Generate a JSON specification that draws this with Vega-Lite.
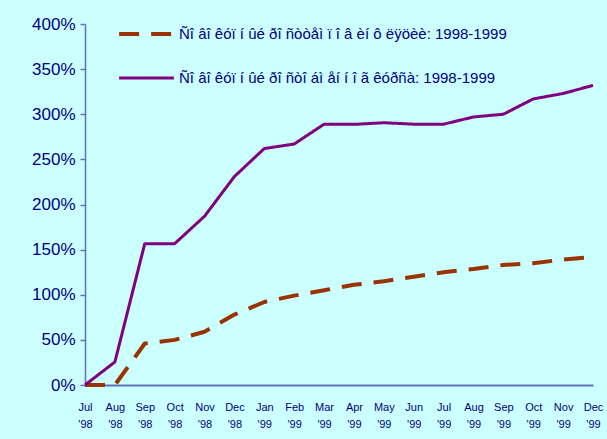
{
  "$schema": "https://vega.github.io/schema/vega-lite/v6.json",
  "width": 508,
  "height": 361,
  "autosize": {"type": "none"},
  "padding": {"left": 85, "top": 24, "right": 14, "bottom": 54},
  "background": "#CCFFFF",
  "config": {
    "view": {"stroke": null},
    "font": "Liberation Sans"
  },
  "data": {
    "values": [
      {"month": "Jul '98", "series": "A", "value": 0},
      {"month": "Aug '98", "series": "A", "value": 0},
      {"month": "Sep '98", "series": "A", "value": 0.46},
      {"month": "Oct '98", "series": "A", "value": 0.50},
      {"month": "Nov '98", "series": "A", "value": 0.59},
      {"month": "Dec '98", "series": "A", "value": 0.78},
      {"month": "Jan '99", "series": "A", "value": 0.92},
      {"month": "Feb '99", "series": "A", "value": 0.99},
      {"month": "Mar '99", "series": "A", "value": 1.05},
      {"month": "Apr '99", "series": "A", "value": 1.11},
      {"month": "May '99", "series": "A", "value": 1.15},
      {"month": "Jun '99", "series": "A", "value": 1.20},
      {"month": "Jul '99", "series": "A", "value": 1.25},
      {"month": "Aug '99", "series": "A", "value": 1.285},
      {"month": "Sep '99", "series": "A", "value": 1.33},
      {"month": "Oct '99", "series": "A", "value": 1.35},
      {"month": "Nov '99", "series": "A", "value": 1.39},
      {"month": "Dec '99", "series": "A", "value": 1.42},
      {"month": "Jul '98", "series": "B", "value": 0},
      {"month": "Aug '98", "series": "B", "value": 0.255},
      {"month": "Sep '98", "series": "B", "value": 1.566},
      {"month": "Oct '98", "series": "B", "value": 1.566},
      {"month": "Nov '98", "series": "B", "value": 1.87},
      {"month": "Dec '98", "series": "B", "value": 2.31},
      {"month": "Jan '99", "series": "B", "value": 2.62},
      {"month": "Feb '99", "series": "B", "value": 2.67},
      {"month": "Mar '99", "series": "B", "value": 2.89},
      {"month": "Apr '99", "series": "B", "value": 2.888},
      {"month": "May '99", "series": "B", "value": 2.906},
      {"month": "Jun '99", "series": "B", "value": 2.89},
      {"month": "Jul '99", "series": "B", "value": 2.89},
      {"month": "Aug '99", "series": "B", "value": 2.97},
      {"month": "Sep '99", "series": "B", "value": 3.00},
      {"month": "Oct '99", "series": "B", "value": 3.17},
      {"month": "Nov '99", "series": "B", "value": 3.23},
      {"month": "Dec '99", "series": "B", "value": 3.32}
    ]
  },
  "transform": [
    {"calculate": "datum.series === 'A' ? 'Ñî âî êóï í ûé ðî ñòòåì ï î â èí ô ëÿöèè: 1998-1999' : 'Ñî âî êóï í ûé ðî ñòî áì åí í î ã  êóðñà: 1998-1999'", "as": "label"}
  ],
  "mark": {"type": "line", "strokeCap": "butt", "strokeJoin": "round"},
  "encoding": {
    "x": {
      "field": "month",
      "type": "ordinal",
      "sort": null,
      "scale": {"type": "point", "padding": 0},
      "axis": {
        "title": null,
        "labelAngle": 0,
        "labelExpr": "split(datum.value, ' ')",
        "labelFontSize": 11,
        "labelLineHeight": 17,
        "labelColor": "#000080",
        "labelPadding": 16,
        "ticks": false,
        "domainColor": "#6070C0",
        "domainWidth": 2,
        "grid": false
      }
    },
    "y": {
      "field": "value",
      "type": "quantitative",
      "scale": {"domain": [0, 4], "nice": false},
      "axis": {
        "title": null,
        "values": [0, 0.5, 1, 1.5, 2, 2.5, 3, 3.5, 4],
        "format": ".0%",
        "labelFontSize": 17,
        "labelColor": "#000080",
        "labelPadding": 5,
        "tickSize": 5,
        "tickColor": "#6070C0",
        "tickWidth": 1.5,
        "domainColor": "#6070C0",
        "domainWidth": 1.5,
        "grid": false
      }
    },
    "color": {
      "field": "label",
      "type": "nominal",
      "sort": null,
      "scale": {"range": ["#993300", "#800080"]},
      "legend": {
        "title": null,
        "orient": "none",
        "legendX": 32,
        "legendY": -1,
        "symbolType": "stroke",
        "symbolSize": 3000,
        "symbolStrokeWidth": 4,
        "clipHeight": 22,
        "rowPadding": 22,
        "labelFontSize": 15,
        "labelColor": "#000080",
        "labelLimit": 500,
        "labelOffset": 3,
        "padding": 0
      }
    },
    "strokeDash": {
      "field": "label",
      "type": "nominal",
      "sort": null,
      "scale": {"range": [[20, 12], [1, 0]]},
      "legend": null
    },
    "strokeWidth": {
      "field": "label",
      "type": "nominal",
      "sort": null,
      "scale": {"range": [4, 3]},
      "legend": null
    }
  }
}
